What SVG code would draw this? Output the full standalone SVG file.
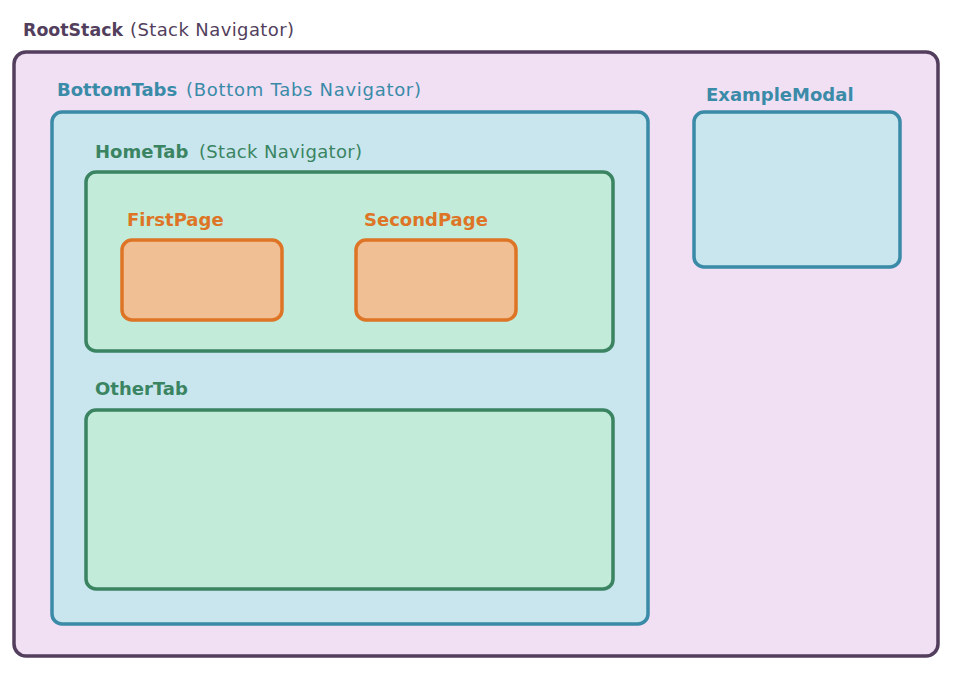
<svg xmlns="http://www.w3.org/2000/svg" width="962" height="690" viewBox="0 0 962 690">
<style>
text{font-family:"DejaVu Sans","Liberation Sans",sans-serif;font-size:18px}
.b{font-weight:bold}
.root rect{fill:#f1dff4;stroke:#533f5d;stroke-width:3.5}
.root text{fill:#533f5d}
.tabs rect{fill:#c9e6ee;stroke:#3a8ba8;stroke-width:3.5}
.tabs text{fill:#3a8ba8}
.stack rect{fill:#c2ebd9;stroke:#3a8462;stroke-width:3.5}
.stack text{fill:#3a8462}
.page rect{fill:#f0bf93;stroke:#de7425;stroke-width:3.5}
.page text{fill:#de7425}
</style>
<g id="RootStack" class="root">
<text x="23" y="36"><tspan class="b" textLength="100" lengthAdjust="spacingAndGlyphs">RootStack</tspan><tspan x="130" textLength="164" lengthAdjust="spacing">(Stack Navigator)</tspan></text>
<rect x="14" y="52" width="924" height="604" rx="12"/>
</g>
<g id="BottomTabs" class="tabs">
<text x="57" y="96"><tspan class="b">BottomTabs</tspan><tspan x="186" textLength="235" lengthAdjust="spacing">(Bottom Tabs Navigator)</tspan></text>
<rect x="52" y="112" width="596" height="512" rx="10"/>
</g>
<g id="ExampleModal" class="tabs">
<text x="706" y="101" class="b">ExampleModal</text>
<rect x="694" y="112" width="206" height="155" rx="10"/>
</g>
<g id="HomeTab" class="stack">
<text x="95" y="158"><tspan class="b">HomeTab</tspan><tspan x="199" textLength="163" lengthAdjust="spacing">(Stack Navigator)</tspan></text>
<rect x="86" y="172" width="527" height="179" rx="10"/>
</g>
<g id="FirstPage" class="page">
<text x="127" y="226" class="b">FirstPage</text>
<rect x="122" y="240" width="160" height="80" rx="10"/>
</g>
<g id="SecondPage" class="page">
<text x="364" y="226" class="b">SecondPage</text>
<rect x="356" y="240" width="160" height="80" rx="10"/>
</g>
<g id="OtherTab" class="stack">
<text x="95" y="395" class="b">OtherTab</text>
<rect x="86" y="410" width="527" height="179" rx="10"/>
</g>
<g id="connectors"></g>
</svg>
